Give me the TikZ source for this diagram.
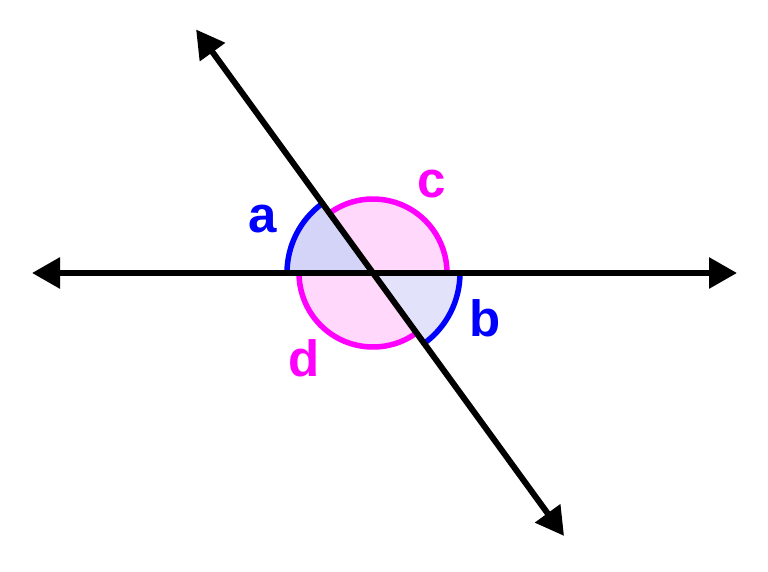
\documentclass[tikz,border=0pt]{standalone}
\usepackage{fontspec}
\setmainfont{Liberation Sans}
\usetikzlibrary{arrows.meta,calc}
\definecolor{myblue}{RGB}{0,0,255}
\definecolor{mymag}{RGB}{255,0,255}
\definecolor{fillA}{RGB}{212,212,248}
\definecolor{fillB}{RGB}{226,226,250}
\definecolor{fillP}{RGB}{255,216,251}
\begin{document}
\begin{tikzpicture}[x=1pt,y=1pt,
  ray/.style={line width=6pt,-{Triangle[length=28pt,width=30pt]}},
  arcline/.style={line width=5.5pt},
  lbl/.style={font=\fontsize{51}{51}\selectfont\bfseries,inner sep=0pt}]
\useasboundingbox (0,0) rectangle (768,571);
\coordinate (O) at (373,298);
\coordinate (L) at (32,298);
\coordinate (R) at (737,298);
\coordinate (U) at ($(O)+(126:301)$);
\coordinate (D) at ($(O)+(-54:325)$);
% fills
\fill[fillA] (O) -- ++(180:86) arc[start angle=180,end angle=126,radius=86] -- cycle;
\fill[fillP] (O) -- ++(126:74) arc[start angle=126,end angle=0,radius=74] -- cycle;
\fill[fillB] (O) -- ++(0:87) arc[start angle=0,end angle=-54,radius=87] -- cycle;
\fill[fillP] (O) -- ++(-54:74) arc[start angle=-54,end angle=-180,radius=74] -- cycle;
% arcs
\draw[arcline,myblue] ($(O)+(180:86)$) arc[start angle=180,end angle=126,radius=86];
\draw[arcline,mymag] ($(O)+(126:74)$) arc[start angle=126,end angle=0,radius=74];
\draw[arcline,myblue] ($(O)+(0:87)$) arc[start angle=0,end angle=-54,radius=87];
\draw[arcline,mymag] ($(O)+(-54:74)$) arc[start angle=-54,end angle=-180,radius=74];
% lines
\draw[ray] (O) -- (L);
\draw[ray] (O) -- (R);
\draw[ray] (O) -- (U);
\draw[ray] (O) -- (D);
% labels
\node[lbl,text=myblue] (la) at (263,352) {a};
\node[lbl,text=mymag] (lc) at (432,387) {c};
\node[lbl,text=myblue] (lb) at (485,252.5) {b};
\node[lbl,text=mymag] (ld) at (304,213) {d};
\end{tikzpicture}
\end{document}
